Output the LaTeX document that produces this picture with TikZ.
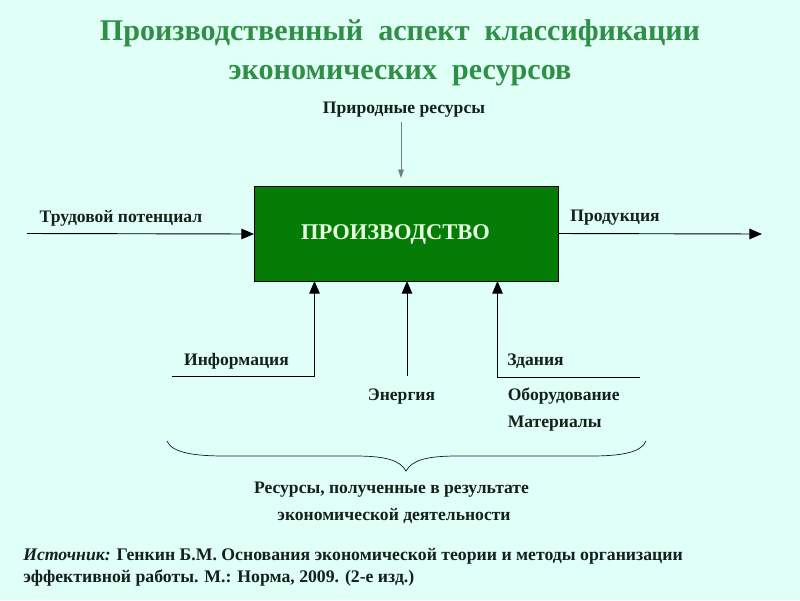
\documentclass[tikz,border=0pt]{standalone}
\usepackage{fontspec}
\setmainfont{Liberation Serif}
\usetikzlibrary{arrows.meta}
\definecolor{pagebg}{HTML}{E0FFF6}
\definecolor{titlegreen}{HTML}{2F8F46}
\definecolor{boxgreen}{HTML}{057C05}
\definecolor{inktext}{HTML}{14201C}
\definecolor{palearrow}{HTML}{6F7F7A}
\definecolor{boxtext}{HTML}{E6FFE0}
\tikzset{
  lbl/.style={inktext, font=\fontsize{12.5}{14}\selectfont\bfseries, inner sep=0pt},
  arr/.style={-{Triangle[length=9pt,width=7.5pt]}, line width=0.65pt, black},
  titletext/.style={titlegreen, font=\fontsize{21.4}{26}\selectfont\bfseries, align=center, inner sep=0pt},
}
\begin{document}
\begin{tikzpicture}[x=0.025cm,y=-0.025cm]
\fill[pagebg] (0,0) rectangle (800,600);
\useasboundingbox (0,0) rectangle (800,600);
\node[titletext] (title) at (400,53) {Производственный\ \ аспект\ \ классификации\\[2pt]экономических\ \ ресурсов};
\node[draw=black, line width=0.6pt, fill=boxgreen, minimum width=304*0.025cm, minimum height=95*0.025cm, inner sep=0pt] (prod) at (406,233.5) {};
\node[boxtext, font=\fontsize{16}{18}\selectfont\bfseries, inner sep=0pt] (prodtext) at (395.5,234.5) {ПРОИЗВОДСТВО};
\node[lbl] (nature) at (404,110) {Природные ресурсы};
\node[lbl] (labor) at (121,218) {Трудовой потенциал};
\node[lbl] (output) at (615,218) {Продукция};
\node[lbl] (info) at (236.5,361) {Информация};
\node[lbl] (energy) at (401.5,397) {Энергия};
\node[lbl] (bld) at (535.5,361) {Здания};
\node[lbl, anchor=west] (equip) at (507.5,396) {Оборудование};
\node[lbl, anchor=west] (mat) at (507.5,423.5) {Материалы};
\node[lbl] (made1) at (391.5,490) {Ресурсы, полученные в результате};
\node[lbl] (made2) at (394,516) {экономической деятельности};
\node[lbl, anchor=west, font=\fontsize{12.6}{14}\selectfont\bfseries] (src1) at (23,556.5) {\textit{Источник:} Генкин Б.М. Основания экономической теории и методы организации};
\node[lbl, anchor=west, font=\fontsize{12.6}{14}\selectfont\bfseries] (src2) at (23,578) {эффективной работы. М.: Норма, 2009. (2-е изд.)};
\coordinate (natstart) at (401,122);
\coordinate (natend) at (401,178);
\coordinate (labstart) at (27,233.5);
\coordinate (labend) at (254,234);
\coordinate (outstart) at (558,233.5);
\coordinate (outend) at (762,234);
\coordinate (infostart) at (172,376.5);
\coordinate (infoknee) at (314.5,376.5);
\coordinate (infoend) at (314.5,281);
\coordinate (enstart) at (407,376);
\coordinate (enend) at (407,281);
\coordinate (bldstart) at (640,377);
\coordinate (bldknee) at (497.5,377);
\coordinate (bldend) at (497.5,281);
\draw[-{Triangle[length=6pt,width=4pt]}, line width=0.5pt, palearrow] (natstart) -- (natend);
\draw[arr] (labstart) -- (labend);
\draw[arr] (outstart) -- (outend);
\draw[arr] (infostart) -- (infoknee) -- (infoend);
\draw[arr] (enstart) -- (enend);
\draw[arr] (bldstart) -- (bldknee) -- (bldend);
% brace
\coordinate (bl) at (167,441);
\coordinate (bm) at (406,471);
\coordinate (br) at (646,441);
\draw[line width=0.5pt, inktext] (bl) .. controls (172,453) and (195,456) .. (225,456) -- (355,456) .. controls (385,456) and (400,460) .. (bm) .. controls (412,460) and (427,456) .. (457,456) -- (590,456) .. controls (620,456) and (641,453) .. (br);
\end{tikzpicture}
\end{document}
